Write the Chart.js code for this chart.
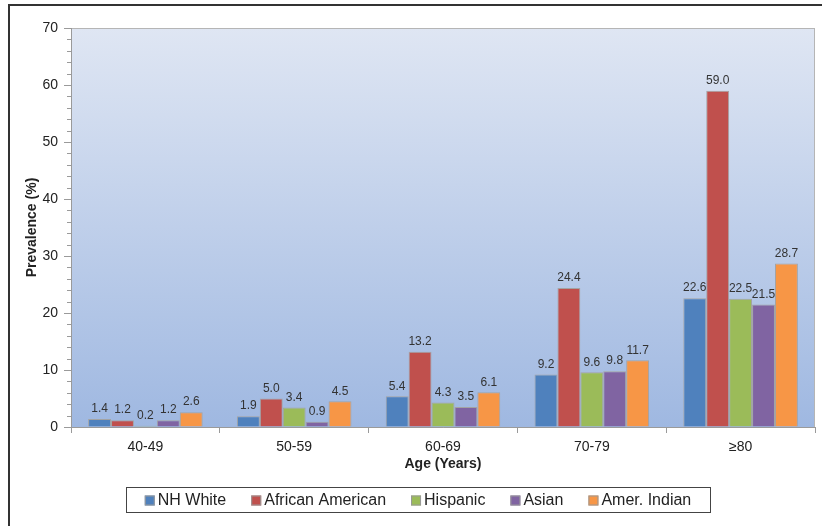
<!DOCTYPE html>
<html>
<head>
<meta charset="utf-8">
<script src="https://cdn.jsdelivr.net/npm/chart.js@4/dist/chart.umd.min.js"></script>
<style>
  html, body { margin: 0; padding: 0; background: #fff; }
  #wrap { width: 822px; height: 526px; position: relative; }
</style>
</head>
<body>
<div id="wrap"><canvas id="chart"></canvas></div>
<script>
const categories = ['40-49', '50-59', '60-69', '70-79', '\u226580']
const nhWhite = [1.4, 1.9, 5.4, 9.2, 22.6]
const africanAmerican = [1.2, 5.0, 13.2, 24.4, 59.0]
const hispanic = [0.2, 3.4, 4.3, 9.6, 22.5]
const asian = [1.2, 0.9, 3.5, 9.8, 21.5]
const amerIndian = [2.6, 4.5, 6.1, 11.7, 28.7]
const yTicks = [0, 10, 20, 30, 40, 50, 60, 70]

const font = "'Liberation Sans', Arial, sans-serif"
const axisGray = '#9a9a9a'

// background gradient, frame, minor ticks, value labels and legend box
const decor = {
  id: 'decor',
  beforeDraw(chart) {
    const { ctx, chartArea: a } = chart
    ctx.save()
    const g = ctx.createLinearGradient(0, a.top, 0, a.bottom)
    g.addColorStop(0, '#dfe6f3')
    g.addColorStop(1, '#9fb8e1')
    ctx.fillStyle = g
    ctx.fillRect(a.left, a.top, a.right - a.left, a.bottom - a.top)
    ctx.strokeStyle = '#b5b5b5'
    ctx.lineWidth = 1
    ctx.strokeRect(a.left + 0.5, a.top + 0.5, a.right - a.left - 1, a.bottom - a.top)
    // outer figure frame
    ctx.strokeStyle = '#333'
    ctx.lineWidth = 2
    ctx.beginPath()
    ctx.moveTo(9, chart.height)
    ctx.lineTo(9, 5)
    ctx.lineTo(chart.width, 5)
    ctx.stroke()
    ctx.restore()
  },
  afterDraw(chart) {
    const { ctx } = chart
    const y = chart.scales.y
    ctx.save()
    // minor ticks every 2
    ctx.strokeStyle = axisGray
    ctx.lineWidth = 1
    for (let v = 0; v <= 70; v += 2) {
      if (v % 10 === 0) continue
      const py = Math.round(y.getPixelForValue(v)) + 0.5
      ctx.beginPath()
      ctx.moveTo(y.right - 4, py)
      ctx.lineTo(y.right, py)
      ctx.stroke()
    }
    // value labels
    ctx.fillStyle = '#333'
    ctx.font = '12px ' + font
    ctx.textAlign = 'center'
    ctx.textBaseline = 'bottom'
    chart.data.datasets.forEach((ds, i) => {
      chart.getDatasetMeta(i).data.forEach((bar, j) => {
        ctx.fillText(ds.data[j].toFixed(1), bar.x, bar.y - 4)
      })
    })
    // legend
    const box = { left: 126, top: 487, right: 710, bottom: 512 }
    ctx.strokeStyle = '#444'
    ctx.lineWidth = 1
    ctx.strokeRect(box.left + 0.5, box.top + 0.5, box.right - box.left, box.bottom - box.top)
    ctx.font = '16px ' + font
    ctx.textAlign = 'left'
    ctx.textBaseline = 'middle'
    const gap = 25
    const items = chart.data.datasets.map(ds => ({ label: ds.label, color: ds.backgroundColor, w: 13 + ctx.measureText(ds.label).width }))
    const total = items.reduce((s, it) => s + it.w, 0) + gap * (items.length - 1)
    let x = (box.left + box.right) / 2 - total / 2
    const cy = (box.top + box.bottom) / 2 + 1
    items.forEach(it => {
      ctx.fillStyle = it.color
      ctx.fillRect(x, cy - 5, 10, 10)
      ctx.strokeStyle = '#999'
      ctx.strokeRect(x + 0.5, cy - 4.5, 9, 9)
      ctx.fillStyle = '#222'
      ctx.fillText(it.label, x + 13, cy)
      x += it.w + gap
    })
    ctx.restore()
  }
}

const mk = (label, data, color) => ({
  label, data,
  backgroundColor: color,
  borderColor: '#a3a3a3',
  borderWidth: 1,
  categoryPercentage: 0.77,
  barPercentage: 1
})

new Chart(document.getElementById('chart'), {
  type: 'bar',
  data: {
    labels: categories,
    datasets: [
      mk('NH White', nhWhite, '#4f81bd'),
      mk('African American', africanAmerican, '#c0504d'),
      mk('Hispanic', hispanic, '#9bbb59'),
      mk('Asian', asian, '#8064a2'),
      mk('Amer. Indian', amerIndian, '#f79646')
    ]
  },
  options: {
    responsive: true,
    maintainAspectRatio: false,
    animation: false,
    layout: { padding: { left: 20, top: 28, right: 7, bottom: 49 } },
    plugins: { legend: { display: false }, tooltip: { enabled: false } },
    scales: {
      x: {
        grid: { offset: true, drawOnChartArea: false, color: axisGray, tickLength: 6 },
        border: { color: axisGray },
        ticks: { color: '#222', font: { family: font, size: 14 }, padding: 6 },
        title: { display: true, text: 'Age (Years)', color: '#222', font: { family: font, size: 14, weight: 'bold' }, padding: { top: 2 } },
        afterFit(s) { s.height = 50 }
      },
      y: {
        min: 0, max: 70,
        afterBuildTicks(s) { s.ticks = yTicks.map(v => ({ value: v })) },
        grid: { drawOnChartArea: false, color: axisGray, tickLength: 7 },
        border: { color: axisGray },
        ticks: { color: '#222', font: { family: font, size: 14 }, padding: 6 },
        title: { display: true, text: 'Prevalence (%)', color: '#222', font: { family: font, size: 14, weight: 'bold' }, padding: { bottom: 4 } },
        afterFit(s) { s.width = 51 }
      }
    }
  },
  plugins: [decor]
})
</script>
</body>
</html>
